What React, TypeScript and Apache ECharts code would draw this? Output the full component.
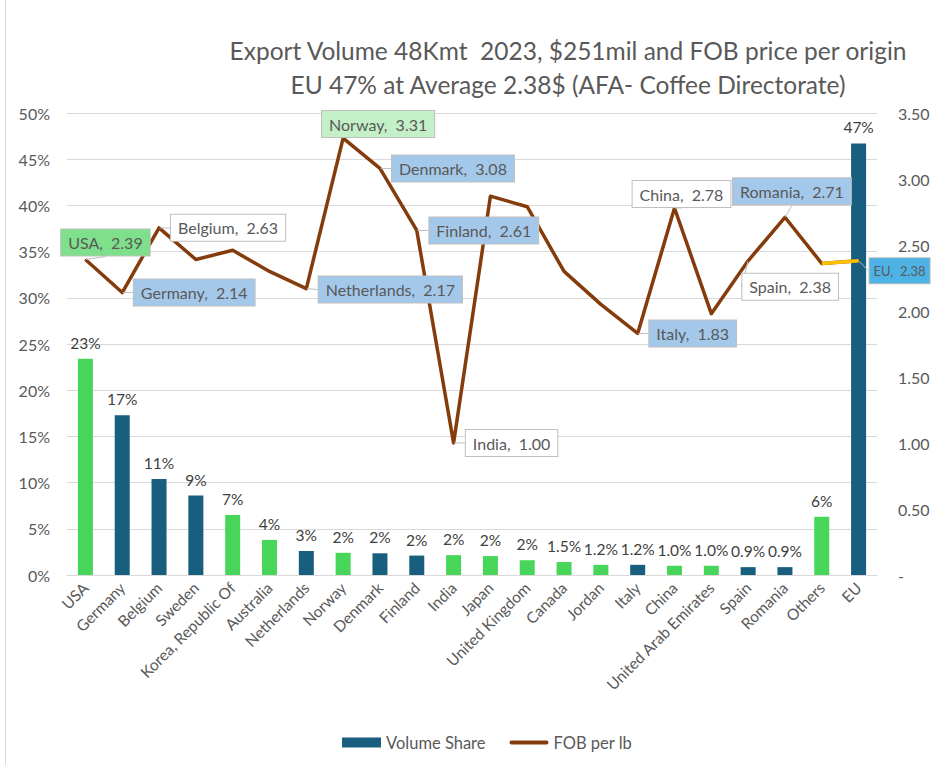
import React, { useEffect, useRef } from "react";
import * as echarts from "echarts";

const categories = [
  "USA", "Germany", "Belgium", "Sweden", "Korea, Republic Of", "Australia",
  "Netherlands", "Norway", "Denmark", "Finland", "India", "Japan",
  "United Kingdom", "Canada", "Jordan", "Italy", "China",
  "United Arab Emirates", "Spain", "Romania", "Others", "EU",
];
const volumeShare = [
  23.4, 17.3, 10.4, 8.6, 6.5, 3.8, 2.6, 2.4, 2.35, 2.1, 2.15, 2.05,
  1.6, 1.4, 1.1, 1.1, 1.0, 1.0, 0.85, 0.85, 6.3, 46.7,
];
const volumeLabels = [
  "23%", "17%", "11%", "9%", "7%", "4%", "3%", "2%", "2%", "2%", "2%", "2%",
  "2%", "1.5%", "1.2%", "1.2%", "1.0%", "1.0%", "0.9%", "0.9%", "6%", "47%",
];
const euMember = [
  false, true, true, true, false, false, true, false, true, true, false, false,
  false, false, false, true, false, false, true, true, false, true,
];
const fobPerLb = [
  2.39, 2.14, 2.63, 2.39, 2.46, 2.3, 2.17, 3.31, 3.08, 2.61, 1.0, 2.87,
  2.79, 2.3, 2.05, 1.83, 2.78, 1.98, 2.38, 2.71, 2.36, 2.38,
];
const leftTicks = [0, 50, 5];
const rightTicks = [0, 3.5, 0.5];

const GREEN = "#47D65A";
const NAVY = "#175E7F";
const BROWN = "#843C0C";
const TXT = "#595959";
const FONT = "Lato, 'Noto Sans', sans-serif";

// callout layout: [dx, dy, fill, fontSize]
const callouts: Record<string, [number, number, string, number]> = {
  USA: [20, -17, "#7FE08C", 16],
  Germany: [72, 0, "#A4C8EA", 16],
  Belgium: [69, 0, "#FFFFFF", 16],
  Netherlands: [84, 1, "#A4C8EA", 16],
  Norway: [35, -14, "#C4F0C8", 16],
  Denmark: [73, 0, "#A4C8EA", 16],
  Finland: [67, 0, "#A4C8EA", 16],
  India: [58, 0, "#FFFFFF", 16],
  Italy: [55, 0, "#A4C8EA", 16],
  China: [7, -14, "#FFFFFF", 16],
  Spain: [42, 26, "#FFFFFF", 16],
  Romania: [7, -26, "#A4C8EA", 16],
  EU: [41, 10, "#4DB3E6", 13],
};

export default function App() {
  const ref = useRef<HTMLDivElement>(null);
  useEffect(() => {
    if (!ref.current) return;
    const chart = echarts.init(ref.current, undefined, { renderer: "svg" });
    const barData = volumeShare.map((v, i) => ({
      value: v,
      itemStyle: { color: euMember[i] ? NAVY : GREEN },
      label: { formatter: volumeLabels[i] },
    }));
    const lineData = fobPerLb.map((v, i) => {
      const c = callouts[categories[i]];
      if (!c) return { value: v, label: { show: false } };
      const small = c[3] < 15;
      return {
        value: v,
        label: {
          show: true,
          position: "inside",
          offset: [c[0], c[1]],
          align: "center",
          verticalAlign: "middle",
          formatter: `${categories[i]},  ${v.toFixed(2)}`,
          backgroundColor: c[2],
          borderColor: "#BFBFBF",
          borderWidth: 1,
          padding: small ? [6, 4, 6, 4] : [5, 7, 5, 7],
          color: TXT,
          fontSize: c[3],
          fontFamily: FONT,
        },
      };
    });
    const euSegment = fobPerLb.map((v, i) => (i >= categories.length - 2 ? v : null));
    chart.setOption({
      animation: false,
      backgroundColor: "#FFFFFF",
      title: {
        text: "Export Volume 48Kmt  2023, $251mil and FOB price per origin\nEU 47% at Average 2.38$ (AFA- Coffee Directorate)",
        left: 563,
        top: 28,
        textAlign: "center",
        textStyle: {
          color: TXT,
          fontSize: 24.5,
          fontWeight: "normal",
          fontFamily: FONT,
          lineHeight: 34,
        },
      },
      grid: { left: 67, right: 56, top: 113, bottom: 190 },
      legend: {
        left: 337,
        top: 729,
        itemWidth: 39,
        itemHeight: 10,
        itemGap: 24,
        textStyle: { color: TXT, fontSize: 16.5, fontFamily: FONT },
        data: [
          { name: "Volume Share", icon: "rect", itemStyle: { color: NAVY } },
          {
            name: "FOB per lb",
            icon: "path://M2,0 L38,0 A2,2 0 0 1 38,4 L2,4 A2,2 0 0 1 2,0 Z",
            itemStyle: { color: BROWN },
          },
        ],
      },
      xAxis: {
        type: "category",
        data: categories,
        axisLine: { lineStyle: { color: "#D9D9D9", width: 1 } },
        axisTick: { show: false },
        axisLabel: {
          rotate: 45,
          interval: 0,
          color: TXT,
          fontSize: 15.5,
          fontFamily: FONT,
          margin: 10,
        },
      },
      yAxis: [
        {
          type: "value",
          min: leftTicks[0],
          max: leftTicks[1],
          interval: leftTicks[2],
          axisLabel: {
            formatter: (v: number) => `${v}%`,
            color: TXT,
            fontSize: 16,
            fontFamily: FONT,
            margin: 17,
          },
          splitLine: { lineStyle: { color: "#D9D9D9" } },
          axisLine: { show: false },
          axisTick: { show: false },
        },
        {
          type: "value",
          min: rightTicks[0],
          max: rightTicks[1],
          interval: rightTicks[2],
          axisLabel: {
            formatter: (v: number) => (v === 0 ? "-" : v.toFixed(2)),
            color: TXT,
            fontSize: 16,
            fontFamily: FONT,
            margin: 21,
          },
          splitLine: { show: false },
          axisLine: { show: false },
          axisTick: { show: false },
        },
      ],
      series: [
        {
          name: "Volume Share",
          type: "bar",
          data: barData,
          barWidth: 15,
          itemStyle: { color: NAVY },
          label: {
            show: true,
            position: "top",
            distance: 8,
            color: "#404040",
            fontSize: 15.5,
            fontFamily: FONT,
          },
        },
        {
          name: "FOB per lb",
          type: "line",
          yAxisIndex: 1,
          data: lineData,
          symbol: "circle",
          symbolSize: 1,
          itemStyle: { color: BROWN },
          lineStyle: { color: BROWN, width: 3.5, join: "round" },
          labelLine: { show: true, lineStyle: { color: "#BFBFBF", width: 1 } },
          z: 3,
        },
        {
          name: "EU segment",
          type: "line",
          yAxisIndex: 1,
          data: euSegment,
          symbol: "none",
          lineStyle: { color: "#FFC000", width: 3.5 },
          z: 4,
        },
      ],
      graphic: [
        {
          type: "line",
          shape: { x1: 5.5, y1: 0, x2: 5.5, y2: 765 },
          style: { stroke: "#D9D9D9", lineWidth: 1 },
        },
      ],
    });
    return () => chart.dispose();
  }, []);
  return (
    <div
      ref={ref}
      style={{ position: "fixed", left: 0, top: 0, width: 933, height: 765 }}
    />
  );
}
